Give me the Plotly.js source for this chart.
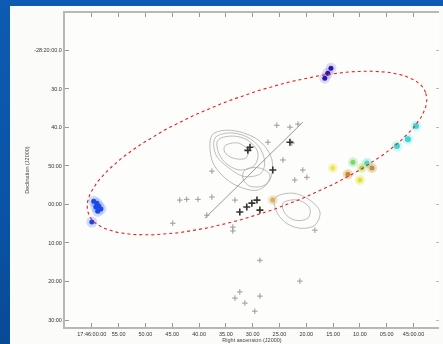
<!DOCTYPE html>
<html>
<head>
<meta charset="utf-8">
<script src="https://cdn.plot.ly/plotly-3.0.1.min.js"></script>
<style>
html,body{margin:0;padding:0;width:443px;height:344px;overflow:hidden;
background:linear-gradient(180deg,#0d5bb2 0%,#0a54a6 60%,#084a96 100%);}
#panel{position:absolute;left:10px;top:6px;width:433px;height:338px;background:#fbfcf9;}
#chart{position:absolute;left:0;top:0;width:443px;height:344px;filter:blur(0.35px);}
</style>
</head>
<body>
<div id="panel"></div>
<div id="chart"></div>
<script>
// Tick labels (x: right ascension, y: declination, bottom to top)
const xTickVals = [0,1,2,3,4,5,6,7,8,9,10,11,12];
const xTickText = ["17:46:00.00","55.00","50.00","45.00","40.00","35.00","30.00","25.00","20.00","15.00","10.00","05.00","45:00.00"];
const yTickVals = [0,1,2,3,4,5,6,7];
const yTickText = ["30:00","20:00","10:00","00:00","50:00","40.0","30.0","-28:20:00.0"];

// Maser spots
const blueX = [0.07,0.19,0.26,0.34,0.22,0.15,0.0];
const blueY = [3.08,3.03,2.95,2.88,2.82,2.93,2.54];
const purpleX = [8.69,8.80,8.92];
const purpleY = [6.27,6.40,6.53];
const cyanX = [11.38,11.79,12.09];
const cyanY = [4.51,4.69,5.03];
const warmX = [8.99,9.55,9.74,10.0,10.26,10.45,10.07,6.75];
const warmY = [3.94,3.78,4.09,3.63,4.07,3.94,3.94,3.11];
const warmC = ["#f2e24a","#c98a2a","#7ad86a","#e8e030","#4fd8b8","#b89040","#a8d84a","#d8b060"];

// Continuum sources (crosses)
const greyX = [6.90,7.69,7.46,6.57,7.13,7.87,8.02,4.48,3.96,3.54,4.48,5.34,4.29,5.26,7.57,8.32,3.28,3.02,7.39,6.27,5.52,5.34,5.71,6.27,6.08,7.76,5.26];
const greyY = [5.05,5.08,4.59,4.61,4.15,3.89,3.70,3.86,3.13,3.13,3.19,3.11,2.72,2.41,3.63,2.33,3.11,2.51,5.00,1.55,0.73,0.57,0.44,0.62,0.23,1.01,2.31];
const darkX = [5.82,5.90,6.16,5.97,6.27,5.78,5.52,6.75,7.39];
const darkY = [4.40,4.48,3.11,3.03,2.85,2.93,2.80,3.89,4.61];

// Diagonal jet axis
const jetX = [4.22,7.87];
const jetY = [2.64,5.13];

// Contour loops
const contours = [
  {x:[4.48,4.96,5.71,6.34,6.72,6.64,6.19,5.45,4.85,4.48,4.48], y:[4.79,4.92,4.84,4.59,4.15,3.63,3.37,3.47,3.76,4.15,4.79]},
  {x:[4.60,5.10,5.78,6.28,6.45,6.30,5.70,5.10,4.62,4.60], y:[4.72,4.85,4.75,4.45,4.05,3.80,3.72,3.95,4.30,4.72]},
  {x:[4.70,5.22,5.82,6.19,6.08,5.52,4.96,4.70,4.70], y:[4.66,4.77,4.66,4.35,4.02,3.89,4.09,4.40,4.66]},
  {x:[4.96,5.45,5.82,5.75,5.26,4.96,4.96], y:[4.51,4.59,4.40,4.20,4.20,4.35,4.51]},
  {x:[5.71,6.27,6.64,6.46,5.90,5.63,5.71], y:[3.89,3.94,3.76,3.50,3.47,3.68,3.89]},
  {x:[6.83,7.46,8.13,8.51,8.32,7.76,7.20,6.87,6.83], y:[3.16,3.29,3.11,2.80,2.46,2.38,2.54,2.85,3.16]},
  {x:[7.13,7.69,8.13,8.06,7.57,7.20,7.13], y:[3.03,3.11,2.90,2.64,2.59,2.77,3.03]}
];

// Ellipse: centre, major half-vector, minor half-vector (data units)
const ellC = [6.16,4.33], ellU = [6.30,1.55], ellV = [0.67,-1.45];
const ex = [], ey = [];
for (let i = 0; i <= 200; i++) {
  const t = 2*Math.PI*i/200;
  ex.push(ellC[0] + ellU[0]*Math.cos(t) + ellV[0]*Math.sin(t));
  ey.push(ellC[1] + ellU[1]*Math.cos(t) + ellV[1]*Math.sin(t));
}

const traces = [];
contours.forEach(c => traces.push({x:c.x, y:c.y, mode:'lines', line:{color:'#ababab', width:0.8, shape:'spline'}, hoverinfo:'skip', showlegend:false}));
traces.push({x:jetX, y:jetY, mode:'lines', line:{color:'#9a9a9a', width:1}, showlegend:false});
traces.push({x:greyX, y:greyY, mode:'markers', marker:{symbol:'cross-thin', size:4, line:{color:'#999', width:1}}, showlegend:false});
traces.push({x:darkX, y:darkY, mode:'markers', marker:{symbol:'cross-thin', size:5, line:{color:'#333', width:1.6}}, showlegend:false});
// glows
traces.push({x:blueX, y:blueY, mode:'markers', marker:{size:11, color:'rgba(80,120,255,0.25)'}, showlegend:false});
traces.push({x:purpleX, y:purpleY, mode:'markers', marker:{size:11, color:'rgba(90,80,220,0.2)'}, showlegend:false});
traces.push({x:cyanX, y:cyanY, mode:'markers', marker:{size:11, color:'rgba(80,230,230,0.25)'}, showlegend:false});
traces.push({x:warmX, y:warmY, mode:'markers', marker:{size:10, color:warmC, opacity:0.3}, showlegend:false});
// cores
traces.push({x:blueX, y:blueY, mode:'markers', marker:{size:5, color:'#1a48e8'}, showlegend:false});
traces.push({x:purpleX, y:purpleY, mode:'markers', marker:{size:5, color:'#2a18a8'}, showlegend:false});
traces.push({x:cyanX, y:cyanY, mode:'markers', marker:{size:6, color:'#40d4d4'}, showlegend:false});
traces.push({x:warmX, y:warmY, mode:'markers', marker:{size:5, color:warmC}, showlegend:false});
traces.push({x:ex, y:ey, mode:'lines', line:{color:'#ee1c1c', width:1.1, dash:'dot'}, showlegend:false});
// carrier for right-hand tick axis
traces.push({x:[0], y:[0], yaxis:'y2', mode:'markers', marker:{opacity:0}, showlegend:false});

const tickFont = {family:'Liberation Sans, Arial', size:5.5, color:'#333'};
const layout = {
  width:443, height:344,
  margin:{l:65, r:4, t:13, b:17},
  paper_bgcolor:'rgba(0,0,0,0)', plot_bgcolor:'#fdfdfb',
  xaxis:{range:[-1.0,12.95], tickvals:xTickVals, ticktext:xTickText,
    showgrid:false, zeroline:false, showline:true, linecolor:'#b8b8b8', linewidth:2,
    mirror:'ticks', ticks:'inside', ticklen:4, tickcolor:'#999', tickwidth:1,
    tickfont:tickFont, automargin:false,
    title:{text:'Right ascension (J2000)', font:{family:'Liberation Sans, Arial', size:5.5, color:'#444'}, standoff:2}},
  yaxis:{range:[-0.18,7.96], tickvals:yTickVals, ticktext:yTickText,
    showgrid:false, zeroline:false, showline:true, linecolor:'#b8b8b8', linewidth:2,
    mirror:false, ticks:'inside', ticklen:4, tickcolor:'#999', tickwidth:1,
    tickfont:tickFont, automargin:false,
    title:{text:'Declination (J2000)', font:{family:'Liberation Sans, Arial', size:5.5, color:'#444'}, standoff:4}},
  yaxis2:{overlaying:'y', side:'right', matches:'y', range:[-0.18,7.96], tickvals:yTickVals,
    showticklabels:false, showline:false, showgrid:false, zeroline:false,
    ticks:'inside', ticklen:3, tickcolor:'#bbb', tickwidth:1},
  showlegend:false
};

Plotly.newPlot('chart', traces, layout, {staticPlot:true, displayModeBar:false});
</script>
</body>
</html>
